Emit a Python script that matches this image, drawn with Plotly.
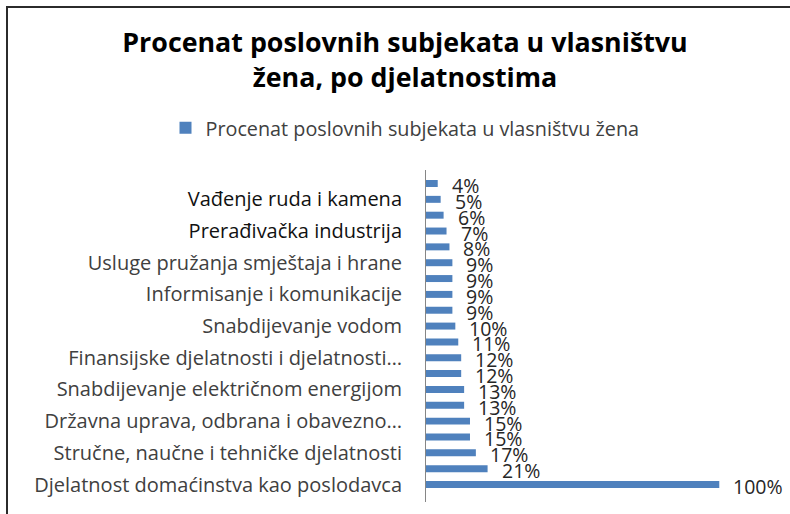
import plotly.graph_objects as go

categories = [
    "Građevinarstvo",
    "Vađenje ruda i kamena",
    "Saobraćaj i skladištenje",
    "Prerađivačka industrija",
    "Poljoprivreda, šumarstvo i ribarstvo",
    "Usluge pružanja smještaja i hrane",
    "Poslovanje nekretninama",
    "Informisanje i komunikacije",
    "Administrativne i pomoćne uslužne djelatnosti",
    "Snabdijevanje vodom",
    "Trgovina na veliko i malo",
    "Finansijske djelatnosti i djelatnosti…",
    "Umjetnost, zabava i rekreacija",
    "Snabdijevanje električnom energijom",
    "Ostale uslužne djelatnosti",
    "Državna uprava, odbrana i obavezno…",
    "Zdravstvena i socijalna zaštita",
    "Stručne, naučne i tehničke djelatnosti",
    "Obrazovanje",
    "Djelatnost domaćinstva kao poslodavca",
]
values = [4, 5, 6, 7, 8, 9, 9, 9, 9, 10, 11, 12, 12, 13, 13, 15, 15, 17, 21, 100]
labelled = [
    "Vađenje ruda i kamena",
    "Prerađivačka industrija",
    "Usluge pružanja smještaja i hrane",
    "Informisanje i komunikacije",
    "Snabdijevanje vodom",
    "Finansijske djelatnosti i djelatnosti…",
    "Snabdijevanje električnom energijom",
    "Državna uprava, odbrana i obavezno…",
    "Stručne, naučne i tehničke djelatnosti",
    "Djelatnost domaćinstva kao poslodavca",
]
series_name = "Procenat poslovnih subjekata u vlasništvu žena"
title_text = "Procenat poslovnih subjekata u vlasništvu<br>žena, po djelatnostima"

FONT = "Open Sans"
W, H = 790, 514
L, R, T, B = 426, 15, 170, 12
pw, ph = W - L - R, H - T - B

def px_x(p):
    return (p - L) / pw

def px_y(p):
    return (H - B - p) / ph

dark = ["Vađenje ruda i kamena", "Prerađivačka industrija"]
ticktext = [
    f"<span style='color:#111111'>{c}</span>" if c in dark else c for c in labelled
]

fig = go.Figure()
fig.add_trace(go.Bar(
    y=categories, x=values, orientation="h", name=series_name,
    marker=dict(color="#4F81BD", line=dict(width=0)),
    showlegend=True,
))

for c, v in zip(categories, values):
    fig.add_annotation(
        x=v, y=c, text=f"{v}%", showarrow=False, xanchor="left",
        xshift=12, yshift=-2, font=dict(family=FONT, size=19.5, color="#262626"),
    )

fig.update_layout(
    width=W, height=H,
    margin=dict(l=L, r=R, t=T, b=B),
    paper_bgcolor="white", plot_bgcolor="white",
    bargap=0.56,
    title=dict(
        text=title_text, x=405 / W, xanchor="center", xref="container",
        y=1 - 52 / H, yanchor="middle", yref="container",
        font=dict(family=FONT, size=26.8, color="#000000", weight="bold"),
    ),
    legend=dict(
        orientation="h", xref="container", yref="container",
        x=405 / W, xanchor="center", y=1 - 128 / H, yanchor="middle",
        font=dict(family=FONT, size=19.8, color="#404040"),
        itemwidth=30,
    ),
    xaxis=dict(range=[0, 119], visible=False, showgrid=False, zeroline=False),
    yaxis=dict(
        categoryorder="array", categoryarray=categories[::-1],
        tickmode="array", tickvals=labelled, ticktext=ticktext,
        tickfont=dict(family=FONT, size=20, color="#404040"),
        showline=True, linecolor="#868686", linewidth=1,
        ticks="", ticklabelstandoff=19, showgrid=False,
    ),
    shapes=[
        dict(type="line", xref="paper", yref="paper",
             x0=px_x(7), x1=px_x(7), y0=px_y(6), y1=px_y(520),
             line=dict(color="#2b2b2b", width=2)),
        dict(type="line", xref="paper", yref="paper",
             x0=px_x(6), x1=px_x(800), y0=px_y(7), y1=px_y(7),
             line=dict(color="#2b2b2b", width=2)),
    ],
)

fig.write_html("out.html")
